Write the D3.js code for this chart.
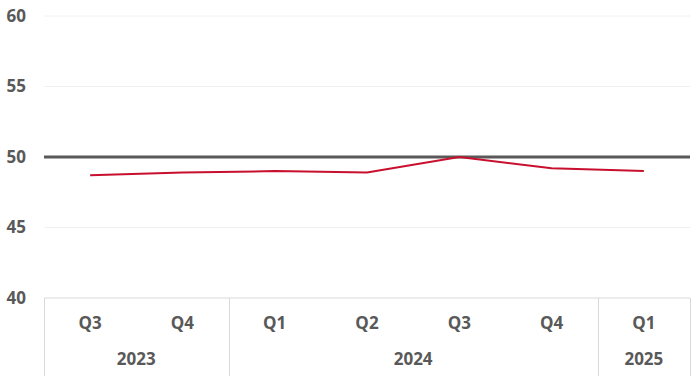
<!DOCTYPE html>
<html>
<head>
<meta charset="utf-8">
<script src="https://cdn.jsdelivr.net/npm/d3@7"></script>
<style>
  body { margin: 0; background: #fff; }
  text { font-family: "Open Sans", sans-serif; font-weight: bold; fill: #595959; }
</style>
</head>
<body>
<script>
// data
var quarters = ["Q3", "Q4", "Q1", "Q2", "Q3", "Q4", "Q1"];
var years = ["2023", "2023", "2024", "2024", "2024", "2024", "2025"];
var values = [48.7, 48.9, 49.0, 48.9, 50.0, 49.2, 49.0];
var yTicks = [40, 45, 50, 55, 60];
var refValue = 50;

function init() {
    var w = 700, h = 376;
    var left = 44, right = 690, top = 16, bottom = 298;

    var svg = d3.select("body").append("svg").attr("width", w).attr("height", h);

    var idx = d3.range(values.length);
    var x = d3.scaleBand().domain(idx).range([left, right]);
    var y = d3.scaleLinear().domain([40, 60]).range([bottom, top]);

    // gridlines
    svg.append("g").selectAll("line")
        .data(yTicks.filter(function (d) { return d !== 40 && d !== refValue; }))
        .enter().append("line")
        .attr("x1", left).attr("x2", right)
        .attr("y1", function (d) { return y(d); }).attr("y2", function (d) { return y(d); })
        .attr("stroke", "#f0f0f0").attr("stroke-width", 1);

    // y labels
    svg.append("g").selectAll("text")
        .data(yTicks)
        .enter().append("text")
        .attr("x", 26)
        .attr("y", function (d) { return y(d); })
        .attr("dy", "0.35em")
        .attr("text-anchor", "end")
        .style("font-size", "17px")
        .text(function (d) { return d; });

    // category axis table
    var ax = svg.append("g").attr("stroke", "#d9d9d9").attr("stroke-width", 1);
    ax.append("line").attr("x1", left).attr("x2", right).attr("y1", bottom).attr("y2", bottom);

    var groups = [];
    years.forEach(function (yr, i) {
        if (!groups.length || groups[groups.length - 1].year !== yr) groups.push({ year: yr, start: i, end: i });
        else groups[groups.length - 1].end = i;
    });
    var bounds = [x(0)].concat(groups.map(function (g) { return x(g.end) + x.bandwidth(); }));
    ax.selectAll("line.sep")
        .data(bounds)
        .enter().append("line")
        .attr("class", "sep")
        .attr("x1", function (d) { return Math.round(d) + 0.5; })
        .attr("x2", function (d) { return Math.round(d) + 0.5; })
        .attr("y1", bottom).attr("y2", h);

    svg.append("g").selectAll("text")
        .data(idx)
        .enter().append("text")
        .attr("x", function (i) { return x(i) + x.bandwidth() / 2; })
        .attr("y", 323)
        .attr("dy", "0.35em")
        .attr("text-anchor", "middle")
        .style("font-size", "17px")
        .text(function (i) { return quarters[i]; });

    svg.append("g").selectAll("text")
        .data(groups)
        .enter().append("text")
        .attr("x", function (g) { return (x(g.start) + x(g.end) + x.bandwidth()) / 2; })
        .attr("y", 359)
        .attr("dy", "0.35em")
        .attr("text-anchor", "middle")
        .style("font-size", "17px")
        .text(function (g) { return g.year; });

    // reference line at 50
    svg.append("line")
        .attr("x1", left).attr("x2", right)
        .attr("y1", y(refValue)).attr("y2", y(refValue))
        .attr("stroke", "#595959").attr("stroke-width", 3);

    // series line
    var line = d3.line()
        .x(function (d, i) { return x(i) + x.bandwidth() / 2; })
        .y(function (d) { return y(d); });

    svg.append("path")
        .datum(values)
        .attr("d", line)
        .attr("fill", "none")
        .attr("stroke", "#c8102e")
        .attr("stroke-width", 2);
}

window.onload = init;
</script>
</body>
</html>
